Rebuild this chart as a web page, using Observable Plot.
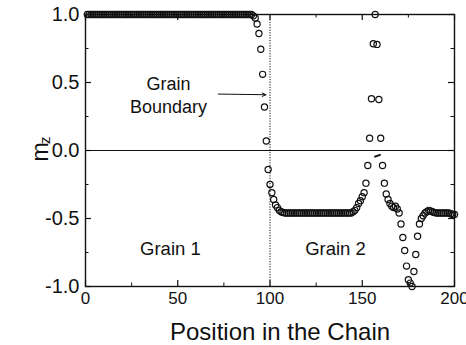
<!DOCTYPE html>
<html>
<head>
<meta charset="utf-8">
<script src="https://cdn.jsdelivr.net/npm/d3@7"></script>
<script src="https://cdn.jsdelivr.net/npm/@observablehq/plot@0.6"></script>
<style>
  html, body { margin: 0; padding: 0; background: #fff; }
</style>
</head>
<body>
<div id="chart"></div>
<script>
// z-component of magnetization along a 200-site chain (site index = position)
const mz = [
  // sites 1–90: grain 1, fully aligned
  1.00, 1.00, 1.00, 1.00, 1.00, 1.00, 1.00, 1.00, 1.00, 1.00,
  1.00, 1.00, 1.00, 1.00, 1.00, 1.00, 1.00, 1.00, 1.00, 1.00,
  1.00, 1.00, 1.00, 1.00, 1.00, 1.00, 1.00, 1.00, 1.00, 1.00,
  1.00, 1.00, 1.00, 1.00, 1.00, 1.00, 1.00, 1.00, 1.00, 1.00,
  1.00, 1.00, 1.00, 1.00, 1.00, 1.00, 1.00, 1.00, 1.00, 1.00,
  1.00, 1.00, 1.00, 1.00, 1.00, 1.00, 1.00, 1.00, 1.00, 1.00,
  1.00, 1.00, 1.00, 1.00, 1.00, 1.00, 1.00, 1.00, 1.00, 1.00,
  1.00, 1.00, 1.00, 1.00, 1.00, 1.00, 1.00, 1.00, 1.00, 1.00,
  1.00, 1.00, 1.00, 1.00, 1.00, 1.00, 1.00, 1.00, 1.00, 1.00,
  // sites 91–107: rotation across the grain boundary
  0.99, 0.975, 0.93, 0.86, 0.745, 0.56, 0.32, 0.07, -0.14, -0.25,
  -0.31, -0.36, -0.40, -0.42, -0.44, -0.45, -0.455,
  // sites 108–144: grain 2 plateau
  -0.46, -0.46, -0.46, -0.46, -0.46, -0.46, -0.46, -0.46, -0.46, -0.46,
  -0.46, -0.46, -0.46, -0.46, -0.46, -0.46, -0.46, -0.46, -0.46, -0.46,
  -0.46, -0.46, -0.46, -0.46, -0.46, -0.46, -0.46, -0.46, -0.46, -0.46,
  -0.46, -0.46, -0.46, -0.46, -0.46, -0.46, -0.46,
  // sites 145–200: spike, dip and recovery
  -0.45, -0.44, -0.42, -0.39, -0.37, -0.34, -0.31, -0.24, -0.11, 0.09,
  0.38, 0.785, 1.00, 0.78, 0.375, 0.09, -0.11, -0.24, -0.32, -0.36,
  -0.39, -0.41, -0.42, -0.41, -0.43, -0.46, -0.54, -0.64, -0.735, -0.85,
  -0.95, -0.975, -1.00, -0.89, -0.765, -0.63, -0.54, -0.50, -0.48, -0.46,
  -0.45, -0.44, -0.445, -0.45, -0.455, -0.46, -0.46, -0.46, -0.46, -0.46,
  -0.46, -0.46, -0.46, -0.465, -0.47, -0.47
];
const positions = mz.map((_, i) => i + 1);

const xMajor = [0, 50, 100, 150, 200];
const xMinor = [25, 75, 125, 175];
const yMajor = [-1, -0.5, 0, 0.5, 1];
const yMinor = [-0.75, -0.25, 0.25, 0.75];

const boundaryAt = [100];
const grainLabels = [
  { x: 46, y: -0.728, text: "Grain 1" },
  { x: 135.5, y: -0.728, text: "Grain 2" }
];
const boundaryNote = [{ x: 45, y: 0.415, text: "Grain\nBoundary" }];
const boundaryArrow = [{ x1: 72, y1: 0.415, x2: 97.8, y2: 0.41 }];
const spikeMarker = [{ x1: 160, y1: -0.03, x2: 156.5, y2: -0.047 }];

const table = positions.map((p, i) => ({ pos: p, mz: mz[i] }));

const W = 466, H = 345, mL = 85, mR = 12, mT = 14, mB = 59;
const fw = W - mL - mR, fh = H - mT - mB;
const font = "'Liberation Sans', Arial, Helvetica, sans-serif";

const chart = Plot.plot({
  width: W,
  height: H,
  marginLeft: mL,
  marginRight: mR,
  marginTop: mT,
  marginBottom: mB,
  style: { fontFamily: font, background: "#fff", color: "#111" },
  x: { domain: [0, 200] },
  y: { domain: [-1, 1] },
  marks: [
    // reference lines
    Plot.ruleY([0], { stroke: "#111", strokeWidth: 1.1 }),
    Plot.ruleX(boundaryAt, { stroke: "#111", strokeWidth: 1, strokeDasharray: "1.2,1.4" }),

    // data
    Plot.dot(table, { x: "pos", y: "mz", r: 3.1, stroke: "#111", strokeWidth: 1.2, fill: "none" }),

    // frame and inward ticks on all four sides
    Plot.frame({ stroke: "#111", strokeWidth: 1.4 }),
    Plot.tickX(xMajor, { x: d => d, insetTop: fh - 6, stroke: "#111", strokeWidth: 1.2 }),
    Plot.tickX(xMajor, { x: d => d, insetBottom: fh - 6, stroke: "#111", strokeWidth: 1.2 }),
    Plot.tickX(xMinor, { x: d => d, insetTop: fh - 3.5, stroke: "#111" }),
    Plot.tickX(xMinor, { x: d => d, insetBottom: fh - 3.5, stroke: "#111" }),
    Plot.tickY(yMajor, { y: d => d, insetRight: fw - 6, stroke: "#111", strokeWidth: 1.2 }),
    Plot.tickY(yMajor, { y: d => d, insetLeft: fw - 6, stroke: "#111", strokeWidth: 1.2 }),
    Plot.tickY(yMinor, { y: d => d, insetRight: fw - 3.5, stroke: "#111" }),
    Plot.tickY(yMinor, { y: d => d, insetLeft: fw - 3.5, stroke: "#111" }),

    // tick labels
    Plot.axisX(xMajor, { tickSize: 0, tickPadding: 5, fontSize: 17, label: null, tickFormat: d => String(d) }),
    Plot.axisY(yMajor, { tickSize: 0, tickPadding: 6, fontSize: 20, label: null, tickFormat: d => d.toFixed(1) }),

    // axis titles
    Plot.text(["Position in the Chain"], {
      frameAnchor: "bottom", text: d => d, dy: 45.5, dx: 10, fontSize: 24, lineAnchor: "middle", fill: "#111"
    }),
    Plot.text([0], { y: d => d, frameAnchor: "left", text: () => "m", rotate: -90, dx: -45, dy: 11, fontSize: 23, fill: "#111" }),
    Plot.text([0], { y: d => d, frameAnchor: "left", text: () => "z", rotate: -90, dx: -40, dy: -6.5, fontSize: 15, fill: "#111" }),

    // annotations
    Plot.text(boundaryNote, { x: "x", y: "y", text: "text", fontSize: 18, lineHeight: 1.28, fill: "#111" }),
    Plot.arrow(boundaryArrow, { x1: "x1", y1: "y1", x2: "x2", y2: "y2", stroke: "#111", strokeWidth: 1, headLength: 6, headAngle: 50 }),
    Plot.link(spikeMarker, { x1: "x1", y1: "y1", x2: "x2", y2: "y2", stroke: "#111", strokeWidth: 2 }),
    Plot.text(grainLabels, { x: "x", y: "y", text: "text", fontSize: 18.5, fill: "#111" })
  ]
});

document.getElementById("chart").appendChild(chart);
</script>
</body>
</html>
